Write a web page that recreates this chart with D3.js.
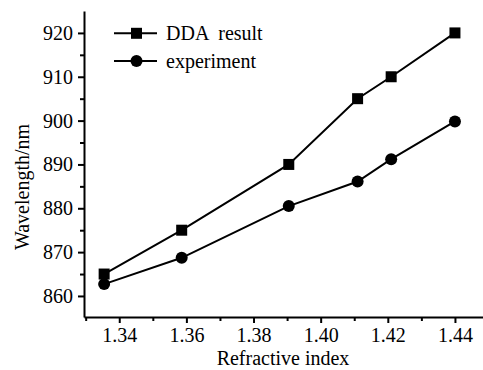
<!DOCTYPE html>
<html>
<head>
<meta charset="utf-8">
<script src="https://cdn.jsdelivr.net/npm/d3@7"></script>
<style>
  body { margin: 0; background: #fff; }
  svg text { font-family: "Times New Roman", Times, "Liberation Serif", "DejaVu Serif", serif; }
</style>
</head>
<body>
<div id="chart"></div>
<script>
// refractive index values and wavelengths
const index = [1.3355, 1.3586, 1.3905, 1.411, 1.421, 1.44];
const ddaResult = [865, 875, 890, 905, 910, 920];
const experiment = [862.7, 868.7, 880.5, 886.1, 891.2, 899.8];
const xTicks = [1.34, 1.36, 1.38, 1.40, 1.42, 1.44];
const yTicks = [860, 870, 880, 890, 900, 910, 920];
const seriesNames = ["DDA  result", "experiment"];

const width = 483, height = 370;
const margin = { top: 11, right: 0, bottom: 53, left: 84 };
const serif = "'Times New Roman', Times, 'Liberation Serif', 'DejaVu Serif', serif";

const svg = d3.select("#chart")
    .append("svg")
    .attr("width", width)
    .attr("height", height);

const xScale = d3.scaleLinear()
    .domain([1.3295, 1.45])
    .range([margin.left, margin.left + 0.1205 * 3357]);

const yScale = d3.scaleLinear()
    .domain([855.2, 925])
    .range([height - margin.bottom, margin.top]);

// minor ticks
const xMinor = d3.range(1.33, 1.455, 0.01).filter(v => !xTicks.some(t => Math.abs(t - v) < 1e-6));
const yMinor = d3.range(865, 925, 10);

const xAxis = svg.append("g")
    .attr("transform", `translate(0,${height - margin.bottom})`);
xAxis.append("g")
    .call(d3.axisBottom(xScale).tickValues(xMinor).tickSize(4).tickFormat(""))
    .call(g => g.select(".domain").remove());
xAxis.append("g")
    .call(d3.axisBottom(xScale).tickValues(xTicks).tickSize(6).tickSizeOuter(0).tickPadding(5)
        .tickFormat(d3.format(".2f")))
    .attr("font-size", "20px")
    .attr("font-family", serif);

const yAxis = svg.append("g")
    .attr("transform", `translate(${margin.left},0)`);
yAxis.append("g")
    .call(d3.axisLeft(yScale).tickValues(yMinor).tickSize(4).tickFormat(""))
    .call(g => g.select(".domain").remove());
yAxis.append("g")
    .call(d3.axisLeft(yScale).tickValues(yTicks).tickSize(6).tickSizeOuter(0).tickPadding(5))
    .attr("font-size", "20px")
    .attr("font-family", serif);

svg.selectAll(".domain, .tick line")
    .attr("stroke", "#000")
    .attr("stroke-width", 2);
svg.selectAll(".tick text")
    .attr("fill", "#000");

// axis titles
svg.append("text")
    .attr("x", 283)
    .attr("y", 365)
    .attr("text-anchor", "middle")
    .attr("font-size", "20px")
    .attr("font-family", serif)
    .text("Refractive index");

svg.append("text")
    .attr("transform", `translate(29,${187}) rotate(-90)`)
    .attr("text-anchor", "middle")
    .attr("font-size", "20px")
    .attr("font-family", serif)
    .text("Wavelength/nm");

const line = d3.line()
    .x((d, i) => xScale(index[i]))
    .y(d => yScale(d));

svg.append("path")
    .datum(ddaResult)
    .attr("d", line)
    .attr("fill", "none")
    .attr("stroke", "#000")
    .attr("stroke-width", 2);

svg.append("path")
    .datum(experiment)
    .attr("d", line)
    .attr("fill", "none")
    .attr("stroke", "#000")
    .attr("stroke-width", 2);

svg.selectAll(".sq")
    .data(ddaResult)
    .enter()
    .append("rect")
    .attr("class", "sq")
    .attr("x", (d, i) => xScale(index[i]) - 5.5)
    .attr("y", d => yScale(d) - 5.5)
    .attr("width", 11)
    .attr("height", 11)
    .attr("fill", "#000");

svg.selectAll(".dot")
    .data(experiment)
    .enter()
    .append("circle")
    .attr("class", "dot")
    .attr("cx", (d, i) => xScale(index[i]))
    .attr("cy", d => yScale(d))
    .attr("r", 6)
    .attr("fill", "#000");

// legend
const legend = svg.append("g");
seriesNames.forEach((name, i) => {
    const y = 33.3 + i * 27.7;
    legend.append("line")
        .attr("x1", 114).attr("x2", 157)
        .attr("y1", y).attr("y2", y)
        .attr("stroke", "#000")
        .attr("stroke-width", 2);
    if (i === 0) {
        legend.append("rect")
            .attr("x", 131).attr("y", y - 5.5)
            .attr("width", 11).attr("height", 11)
            .attr("fill", "#000");
    } else {
        legend.append("circle")
            .attr("cx", 136.5).attr("cy", y)
            .attr("r", 6)
            .attr("fill", "#000");
    }
    legend.append("text")
        .attr("x", 166)
        .attr("y", y + 6.5)
        .attr("font-size", "20px")
        .attr("font-family", serif)
        .style("white-space", "pre")
        .text(name);
});
</script>
</body>
</html>
